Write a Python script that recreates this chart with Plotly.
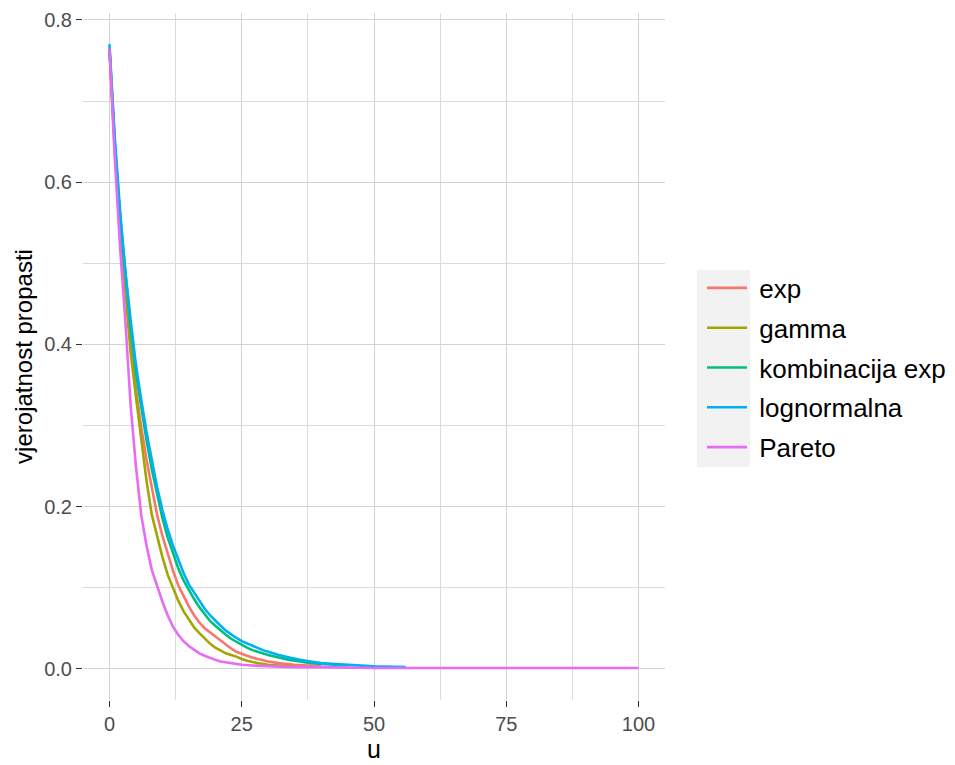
import plotly.graph_objects as go

# ---- data ----
u_exp = [0,1,2,3,4,5,6,7,8,9,10,11,12,13,14,15,16,17,18,19,20,21,22,23,24,25,26,27,28,30,32,35,40]
exp_vals = [0.765,0.645,0.55,0.47,0.40,0.345,0.298,0.258,0.222,0.19,0.164,0.141,0.121,0.103,0.089,0.077,0.066,0.057,0.050,0.045,0.039,0.034,0.029,0.025,0.021,0.018,0.016,0.014,0.012,0.009,0.007,0.005,0.003]

u_gamma = [0,1,2,3,4,5,6,7,8,9,10,11,12,13,14,15,16,17,18,19,20,21,22,23,24,25,26,28,30,32,35]
gamma_vals = [0.765,0.64,0.545,0.462,0.39,0.336,0.283,0.232,0.19,0.162,0.138,0.116,0.100,0.084,0.071,0.061,0.051,0.044,0.037,0.031,0.026,0.022,0.019,0.017,0.015,0.012,0.010,0.007,0.005,0.004,0.003]

u_komb = [0,1,2,3,4,5,6,7,8,9,10,11,12,13,14,15,16,17,18,19,20,21,22,23,24,25,26,27,28,29,30,32,34,36,38,40,42,45]
komb_vals = [0.765,0.65,0.56,0.485,0.42,0.365,0.322,0.282,0.246,0.214,0.186,0.162,0.142,0.124,0.109,0.097,0.086,0.076,0.067,0.059,0.053,0.047,0.042,0.037,0.033,0.029,0.026,0.023,0.021,0.019,0.017,0.014,0.011,0.009,0.007,0.006,0.005,0.004]

u_logn = [0,1,2,3,4,5,6,7,8,9,10,11,12,13,14,15,16,17,18,19,20,21,22,23,24,25,26,27,28,29,30,32,34,36,38,40,42,45,50,56]
logn_vals = [0.770,0.655,0.565,0.49,0.43,0.375,0.332,0.292,0.258,0.224,0.196,0.172,0.152,0.134,0.118,0.104,0.094,0.083,0.074,0.066,0.059,0.053,0.047,0.042,0.038,0.034,0.031,0.028,0.025,0.023,0.021,0.017,0.014,0.011,0.009,0.007,0.006,0.005,0.003,0.002]

u_pareto = [0,1,2,3,4,5,6,7,8,9,10,11,12,13,14,15,16,17,18,19,20,21,22,23,24,25,27,30,35,40,50,60,70,80,90,100]
pareto_vals = [0.765,0.63,0.52,0.43,0.325,0.25,0.19,0.152,0.122,0.101,0.083,0.066,0.052,0.042,0.034,0.028,0.023,0.019,0.016,0.013,0.011,0.009,0.008,0.007,0.006,0.005,0.004,0.003,0.002,0.002,0.001,0.001,0.001,0.001,0.001,0.001]

series_names = ["exp", "gamma", "kombinacija exp", "lognormalna", "Pareto"]
series_x = [u_exp, u_gamma, u_komb, u_logn, u_pareto]
series_y = [exp_vals, gamma_vals, komb_vals, logn_vals, pareto_vals]
series_colors = ["#F8766D", "#A3A500", "#00BF7D", "#00B0F6", "#E76BF3"]

x_ticks = [0, 25, 50, 75, 100]
y_ticks = [0.0, 0.2, 0.4, 0.6, 0.8]
y_tick_text = ["0.0", "0.2", "0.4", "0.6", "0.8"]

fig = go.Figure()
for i, (name, xs, ys, col) in enumerate(zip(series_names, series_x, series_y, series_colors)):
    fig.add_trace(go.Scatter(x=xs, y=ys, mode="lines", name="\u00a0" + name,
                             line=dict(color=col, width=2.6),
                             legendgroup=f"g{i}"))

FONT = "Liberation Sans, Arial, sans-serif"
L, R, T, B = 83, 290, 13, 65
W, H = 955, 765
pw, ph = W - L - R, H - T - B

def px_x(px):
    return (px - L) / pw

def px_y(py):
    return (H - B - py) / ph

fig.add_shape(type="rect", xref="paper", yref="paper",
              x0=px_x(697), x1=px_x(750), y0=px_y(467), y1=px_y(270),
              fillcolor="#F2F2F2", line=dict(width=0), layer="below")

fig.update_layout(
    width=W, height=H,
    margin=dict(l=L, r=R, t=T, b=B, autoexpand=False),
    paper_bgcolor="white", plot_bgcolor="white",
    font=dict(family=FONT, color="black"),
    showlegend=True,
    legend=dict(x=px_x(702), xanchor="left", y=px_y(368), yanchor="middle",
                font=dict(size=26, color="black", family=FONT),
                bgcolor="rgba(0,0,0,0)", tracegroupgap=3,
                itemwidth=40),
    xaxis=dict(range=[-5, 105], tickvals=x_ticks, ticktext=[str(v) for v in x_ticks],
               automargin=False,
               showgrid=True, gridcolor="#D2D2D2", gridwidth=1.3,
               minor=dict(tickvals=[12.5, 37.5, 62.5, 87.5], showgrid=True,
                          gridcolor="#DCDCDC", gridwidth=0.9),
               ticks="outside", ticklen=6, tickcolor="#333333", tickwidth=1.3,
               tickfont=dict(size=20, color="#4D4D4D", family=FONT),
               zeroline=False, showline=False,
               title=dict(text="u", font=dict(size=25, color="black", family=FONT), standoff=4)),
    yaxis=dict(range=[-0.0385, 0.8085], tickvals=y_ticks, ticktext=y_tick_text,
               automargin=False,
               showgrid=True, gridcolor="#D2D2D2", gridwidth=1.3,
               minor=dict(tickvals=[0.1, 0.3, 0.5, 0.7], showgrid=True,
                          gridcolor="#DCDCDC", gridwidth=0.9),
               ticks="outside", ticklen=6, tickcolor="#333333", tickwidth=1.3,
               tickfont=dict(size=20, color="#4D4D4D", family=FONT),
               zeroline=False, showline=False,
               title=dict(text="vjerojatnost propasti", font=dict(size=24, color="black", family=FONT), standoff=4)),
)

fig.write_html("out.html")
